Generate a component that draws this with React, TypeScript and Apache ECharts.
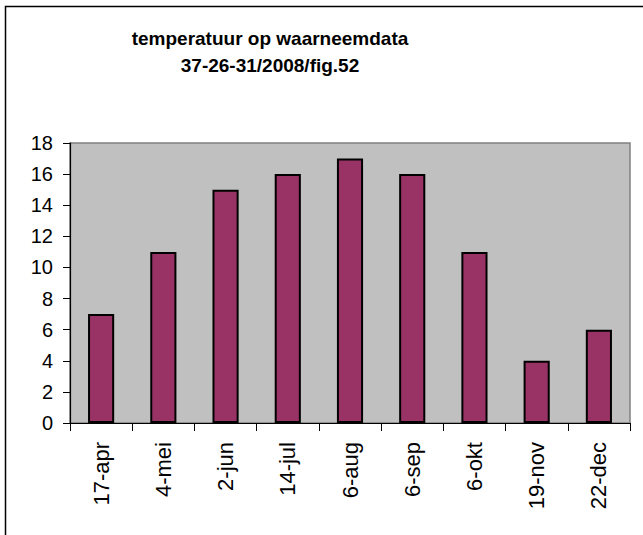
import React, { useEffect, useRef } from "react";
import * as echarts from "echarts";

const categories = ["17-apr", "4-mei", "2-jun", "14-jul", "6-aug", "6-sep", "6-okt", "19-nov", "22-dec"];
const temperatures = [7, 11, 15, 16, 17, 16, 11, 4, 6];
const titleLines = ["temperatuur op waarneemdata", "37-26-31/2008/fig.52"];

export default function App() {
  const ref = useRef<HTMLDivElement>(null);
  useEffect(() => {
    if (!ref.current) return;
    const chart = echarts.init(ref.current, null, { renderer: "svg" });
    const font = '"Liberation Sans", Arial, sans-serif';
    chart.setOption({
      animation: false,
      backgroundColor: "#ffffff",
      graphic: [
        {
          type: "rect",
          shape: { x: 5.5, y: 6.5, width: 700, height: 600 },
          style: { fill: "none", stroke: "#000", lineWidth: 1.5 },
          z: 100,
        },
        {
          type: "text",
          x: 270,
          y: 25,
          style: {
            text: titleLines.join("\n"),
            fontFamily: font,
            fontWeight: "bold",
            fontSize: 19,
            lineHeight: 27,
            textAlign: "center",
            textVerticalAlign: "top",
            fill: "#000",
          },
        },
      ],
      grid: {
        left: 70,
        right: 13,
        top: 143,
        bottom: 112,
        show: true,
        backgroundColor: "#C0C0C0",
        borderColor: "#808080",
        borderWidth: 1.5,
      },
      xAxis: {
        type: "category",
        data: categories,
        axisLine: { lineStyle: { color: "#000", width: 1.2 } },
        axisTick: { show: true, length: 8, alignWithLabel: false, lineStyle: { color: "#000" } },
        axisLabel: { rotate: 90, fontSize: 22, color: "#000", fontFamily: font, margin: 19, interval: 0 },
        splitLine: { show: false },
      },
      yAxis: {
        type: "value",
        min: 0,
        max: 18,
        interval: 2,
        axisLine: { show: true, lineStyle: { color: "#000", width: 1.2 } },
        axisTick: { show: true, length: 7, lineStyle: { color: "#000" } },
        axisLabel: { fontSize: 20, color: "#000", fontFamily: font, margin: 17 },
        splitLine: { show: false },
      },
      series: [
        {
          type: "bar",
          data: temperatures,
          barWidth: "42%",
          itemStyle: { color: "#993366", borderColor: "#000", borderWidth: 2 },
        },
      ],
    });
    return () => chart.dispose();
  }, []);
  return (
    <div
      ref={ref}
      style={{ position: "absolute", left: 0, top: 0, width: 643, height: 535 }}
    />
  );
}
